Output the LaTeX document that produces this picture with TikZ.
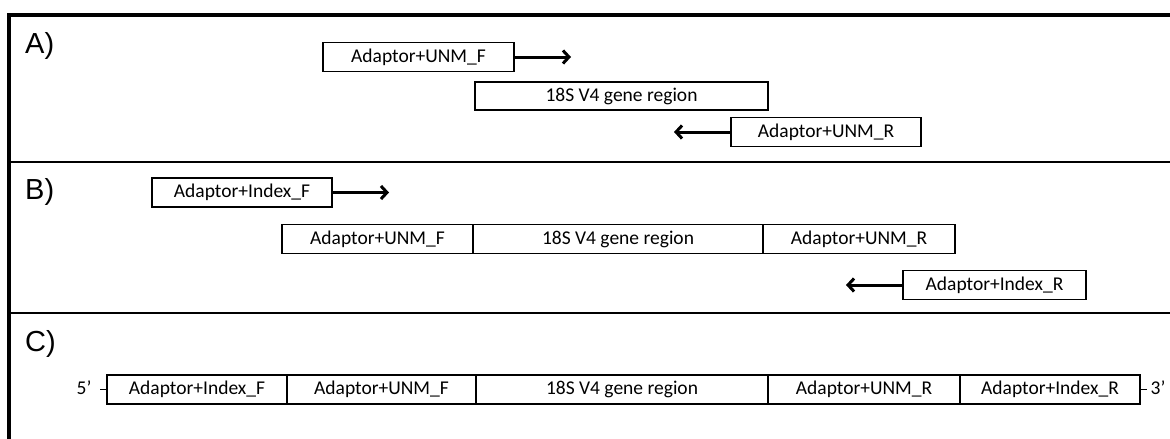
\documentclass[tikz,border=0pt]{standalone}
\usepackage{fontspec}
\setmainfont{Carlito}
\newfontfamily\labfont{Liberation Sans}
\usetikzlibrary{arrows.meta}
\begin{document}
\begin{tikzpicture}[x=1pt,y=-1pt,
  seg/.style={draw, line width=1.5pt, inner sep=0pt, minimum height=29pt, font=\fontsize{19.5}{22}\selectfont},
  panel/.style={anchor=base west, inner sep=0pt, font=\labfont\fontsize{29}{32}\selectfont},
  primer/.style={line width=3pt, -{Straight Barb[length=6pt,width=13pt,line width=3pt]}},
  frameline/.style={line width=3.5pt, line join=miter},
  divider/.style={line width=2.2pt},
  endlab/.style={inner sep=0pt, font=\fontsize{19.5}{22}\selectfont},
  tickline/.style={line width=0.8pt}]
\useasboundingbox (0,0) rectangle (1170,439);
% frame and dividers
\draw[frameline] (9,445) -- (9,15) -- (1175,15);
\draw[divider] (9,162) -- (1175,162);
\draw[divider] (9,313) -- (1175,313);
% panel labels
\node[panel] (labA) at (25,53) {A)};
\node[panel] (labB) at (25,199) {B)};
\node[panel] (labC) at (25,351) {C)};
% Panel A
\node[seg, minimum width=191pt] (aF) at (418.5,57) {Adaptor+UNM\_F};
\node[seg, minimum width=293pt, minimum height=28pt] (a18) at (621.5,96) {18S V4 gene region};
\node[seg, minimum width=190pt] (aR) at (826,132) {Adaptor+UNM\_R};
\coordinate (aFtip) at (571,57);
\coordinate (aRtip) at (674,132);
\draw[primer] (aF.east) -- (aFtip);
\draw[primer] (aR.west) -- (aRtip);
% Panel B
\node[seg, minimum width=180pt] (bIF) at (242,192.5) {Adaptor+Index\_F};
\node[seg, minimum width=191pt] (bF) at (377.5,239) {Adaptor+UNM\_F};
\node[seg, minimum width=290pt] (b18) at (618,239) {18S V4 gene region};
\node[seg, minimum width=192pt] (bR) at (859,239) {Adaptor+UNM\_R};
\node[seg, minimum width=183pt] (bIR) at (994.5,285) {Adaptor+Index\_R};
\coordinate (bIFtip) at (389,192.5);
\coordinate (bIRtip) at (846,285);
\draw[primer] (bIF.east) -- (bIFtip);
\draw[primer] (bIR.west) -- (bIRtip);
% Panel C
\node[seg, minimum width=180pt] (cIF) at (197,389.5) {Adaptor+Index\_F};
\node[seg, minimum width=189pt] (cF) at (381.5,389.5) {Adaptor+UNM\_F};
\node[seg, minimum width=292pt] (c18) at (622,389.5) {18S V4 gene region};
\node[seg, minimum width=192pt] (cR) at (864,389.5) {Adaptor+UNM\_R};
\node[seg, minimum width=180pt] (cIF2) at (1050,389.5) {Adaptor+Index\_R};
\node[endlab] (five) at (84,388) {5’};
\node[endlab] (three) at (1158,388) {3’};
\draw[tickline] ([xshift=-6pt]cIF.west) -- (cIF.west);
\draw[tickline] (cIF2.east) -- ([xshift=6pt]cIF2.east);
\end{tikzpicture}
\end{document}
